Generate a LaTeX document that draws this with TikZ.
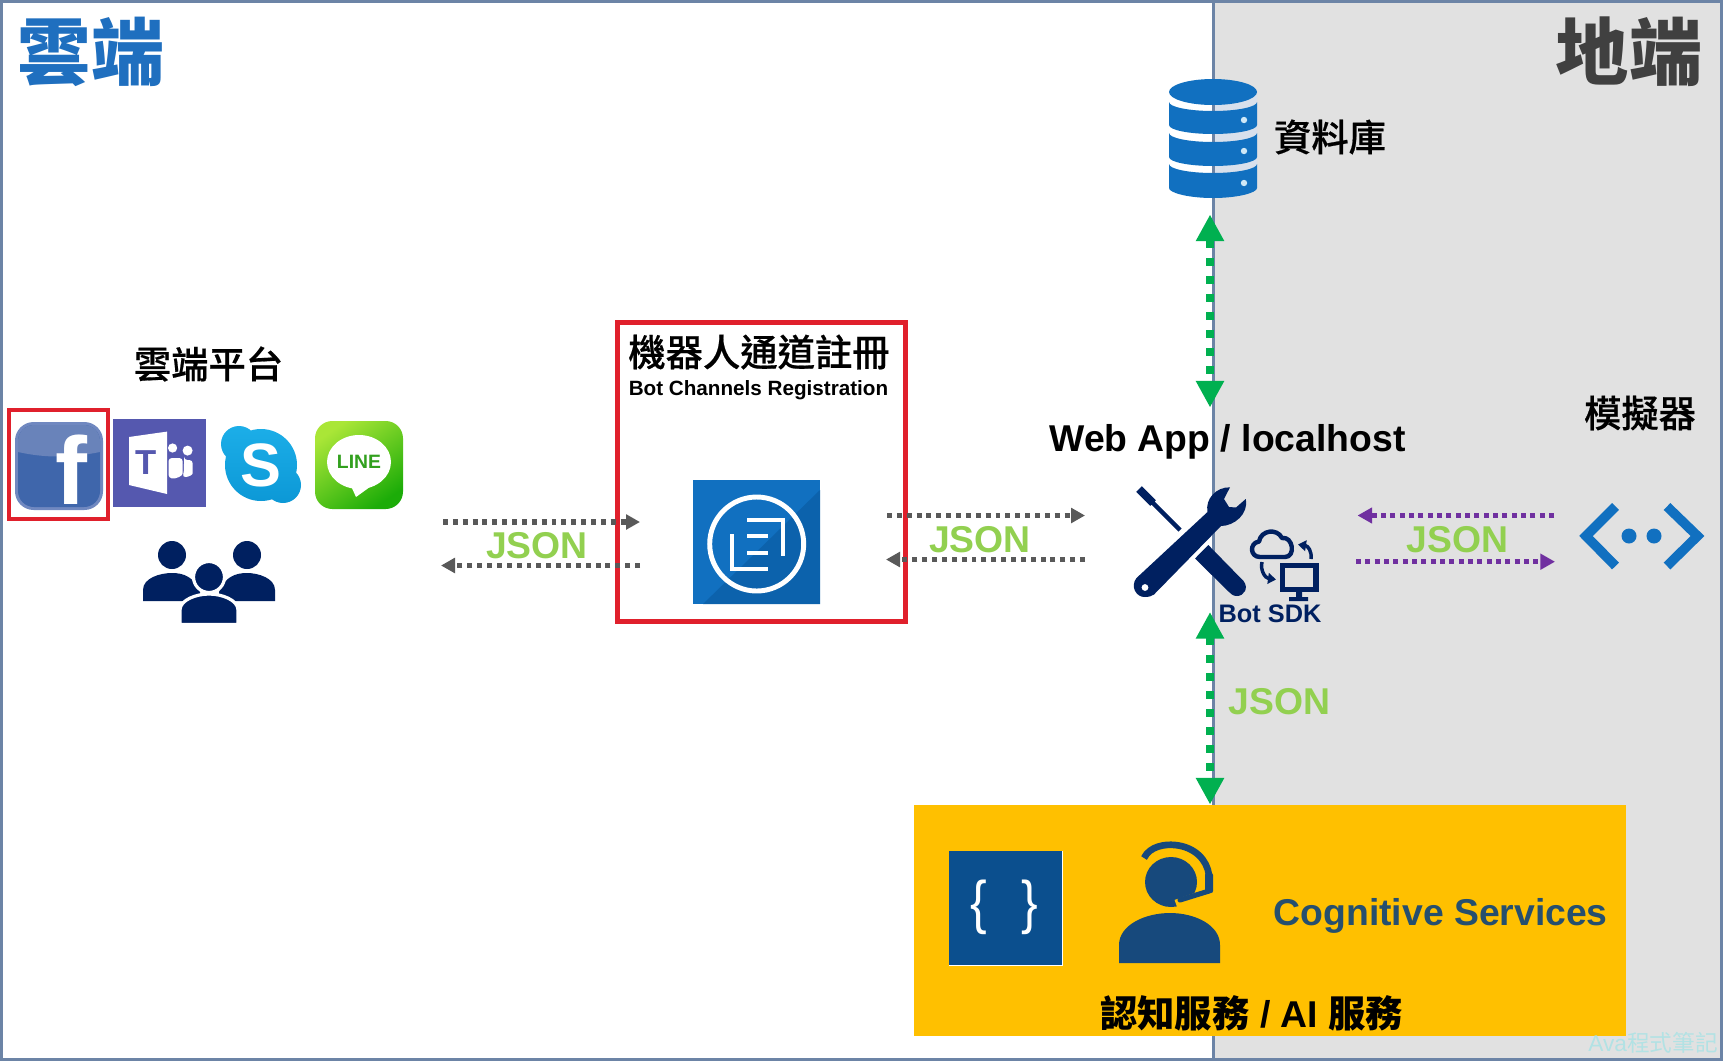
\documentclass[tikz,border=0pt]{standalone}
\usepackage{fontspec}
\setmainfont{Liberation Sans}
\newfontfamily\cjk{Noto Sans CJK TC}
\newfontfamily\cjkm[FakeBold=0.5]{Noto Sans CJK TC Medium}
\usetikzlibrary{arrows.meta}
\definecolor{frameblue}{HTML}{6C84A6}
\definecolor{panelgray}{HTML}{E1E1E1}
\definecolor{cloudblue}{HTML}{1F6FBF}
\definecolor{darktitle}{HTML}{404040}
\definecolor{azure}{HTML}{1170C0}
\definecolor{azuredark}{HTML}{0C62AC}
\definecolor{bandblue}{HTML}{D8E0EC}
\definecolor{dotblue}{HTML}{CFE8F7}
\definecolor{navy}{HTML}{002060}
\definecolor{boxred}{HTML}{E0202C}
\definecolor{arrowgray}{HTML}{595959}
\definecolor{arrowgreen}{HTML}{00B050}
\definecolor{arrowpurple}{HTML}{7030A0}
\definecolor{jsongreen}{HTML}{92D050}
\definecolor{orangebox}{HTML}{FFC000}
\definecolor{bracesblue}{HTML}{0B4F8E}
\definecolor{personblue}{HTML}{17497C}
\definecolor{coglabel}{HTML}{264F6E}
\definecolor{teamspurple}{HTML}{5558AF}
\definecolor{wmark}{HTML}{B2E2E4}
\tikzset{
  lbl/.style={inner sep=0pt,outer sep=0pt,anchor=center},
  json/.style={lbl,text=jsongreen,font=\fontsize{28}{30}\selectfont\bfseries},
  cjktitle/.style={lbl,font=\fontsize{28}{30}\selectfont\cjkm},
  grayflow/.style={draw=arrowgray,line width=4pt,dash pattern=on 3.7pt off 3.7pt,
    -{Triangle[length=10.5pt,width=11pt,fill=arrowgray]}},
  purpleflow/.style={draw=arrowpurple,line width=3.8pt,dash pattern=on 3.7pt off 3.3pt,
    -{Triangle[length=11pt,width=11.5pt,fill=arrowpurple]}},
  greenflow/.style={draw=arrowgreen,line width=6pt,dash pattern=on 6pt off 7.5pt,
    {Triangle[length=20pt,width=20pt,fill=arrowgreen]}-{Triangle[length=20pt,width=20pt,fill=arrowgreen]}},
  redbox/.style={draw=boxred,line width=3.8pt}
}
\newcommand\dbseg[4]{%
  \fill[azure] (1169,#1) -- (1169,#3) .. controls (1169,#3+5) and (1189,#4) .. (1213,#4)
    .. controls (1237,#4) and (1257,#3+5) .. (1257,#3) -- (1257,#1)
    .. controls (1257,#1+5) and (1237,#2) .. (1213,#2) .. controls (1189,#2) and (1169,#1+5) .. (1169,#1) -- cycle;}
\begin{document}
\begin{tikzpicture}[x=0.75pt,y=-0.75pt]
\useasboundingbox (0,0) rectangle (1723,1061);
\fill[white] (0,0) rectangle (1723,1061);
% panel
\fill[panelgray] (1214,0) rectangle (1723,1061);
% database backing (light bands on the right half)
\fill[bandblue] (1214,92) -- (1257,92) -- (1257,165) .. controls (1257,170) and (1237,173) .. (1214,173) -- cycle;
\draw[frameblue,line width=2.2pt] (1213.7,0) -- (1213.7,1061);
\draw[frameblue,line width=2.3pt] (1.5,1.5) rectangle (1721.5,1059.5);
% titles
\node[lbl,text=cloudblue,font=\fontsize{55}{60}\selectfont\cjk\bfseries] (tcloud) at (91,52) {雲端};
\node[lbl,text=darktitle,font=\fontsize{55}{60}\selectfont\cjk\bfseries] (tlocal) at (1629,52) {地端};
% database
\fill[azure] (1213,92) ellipse (44 and 13);
\dbseg{102}{111}{125}{134}
\dbseg{133}{142}{157}{166}
\dbseg{164}{173}{188}{198}
\foreach \yy in {120,151,183} \fill[dotblue] (1244,\yy) circle (3.2);
\node[cjktitle] (dbl) at (1330,137) {資料庫};
\coordinate (dbport) at (1210,214.5);
% cloud platforms
\node[cjktitle] (plat) at (208.5,364) {雲端平台};
\draw[boxred,line width=3.2pt] (9,410) rectangle (108,519);
% facebook
\fill[rounded corners=14,fill={rgb,255:red,112;green,136;blue,192}] (15,422) rectangle (103,510);
\fill[rounded corners=12,fill={rgb,255:red,63;green,102;blue,171}] (18,425) rectangle (100,507);
\begin{scope}
\clip[rounded corners=12] (18,425) rectangle (100,507);
\fill[fill={rgb,255:red,105;green,131;blue,186}] (18,425) rectangle (100,452) .. controls (70,458) and (45,458) .. (18,452) -- cycle;
\end{scope}
\node[lbl,text=white,font=\fontsize{72}{72}\selectfont\bfseries] (fb) at (71,470) {f};
% teams
\fill[teamspurple] (113,419) rectangle (206,507);
\fill[white,rounded corners=2.5] (168.5,458) -- (182.7,458) -- (182.7,470) .. controls (182.7,476) and (176,479) .. (168.5,478) -- cycle;
\fill[white,rounded corners=2.5] (184,460) -- (192.7,460) -- (192.7,470) .. controls (192.7,475) and (188,477) .. (182,477) .. controls (184,472) and (184,468) .. (184,460) -- cycle;
\fill[white] (172.6,448) circle (4.6);
\fill[white] (187.6,450.6) circle (5);
\fill[white] (129,437) -- (167,431.6) -- (167,494) -- (129,485) -- cycle;
\node[lbl,text=teamspurple,font=\fontsize{26}{26}\selectfont\bfseries] (teamsT) at (146,463) {T};
% skype
\shade[top color={rgb,255:red,28;green,174;blue,232},bottom color={rgb,255:red,12;green,152;blue,214}]
  (261,465) circle (36) (239,444) circle (18) (283,485) circle (18);
\node[lbl,text=white,font=\fontsize{46}{46}\selectfont\bfseries] (skypeS) at (261,465) {S};
% line
\shade[rounded corners=13,top color={rgb,255:red,170;green,230;blue,55},bottom color={rgb,255:red,28;green,172;blue,8},shading angle=35] (315,421) rectangle (403,509);
\fill[white] (359,462) ellipse (32 and 27);
\fill[white] (351,486) -- (356,497) -- (374,484) -- cycle;
\node[lbl,text={rgb,255:red,50;green,160;blue,30},font=\fontsize{14.5}{15}\selectfont\bfseries] (lineT) at (359,462) {LINE};
% people
\fill[navy] (172,555) circle (14) (247,555) circle (14);
\fill[navy] (143,601) -- (143,590) .. controls (143,578) and (160,573) .. (172,573) .. controls (184,573) and (194,577) .. (200,592) -- (200,601) -- cycle;
\fill[navy] (275,601) -- (275,590) .. controls (275,578) and (258,573) .. (247,573) .. controls (235,573) and (225,577) .. (219,592) -- (219,601) -- cycle;
\fill[navy,draw=white,line width=2.4pt] (209,577) circle (15.5);
\fill[navy,draw=white,line width=2.4pt] (180,624.5) -- (180,610) .. controls (180,600) and (196,594) .. (209,594) .. controls (222,594) and (238,600) .. (238,610) -- (238,624.5) -- cycle;
\fill[white] (170,623) rectangle (250,630);
% registration
\draw[redbox] (617.5,322.5) rectangle (905.5,621.5);
\node[lbl,font=\fontsize{28}{30}\selectfont\cjkm] (regcn) at (759,352) {機器人通道註冊};
\node[lbl,font=\fontsize{15.5}{17}\selectfont\bfseries] (regen) at (758.5,390) {Bot Channels Registration};
\fill[azure] (693,480) rectangle (820,604);
\fill[azuredark] (820,490) -- (820,604) -- (703,604) -- cycle;
\draw[white,line width=3.7pt] (756.7,544) circle (47);
\draw[white,line width=3.7pt] (732,534) -- (732,569) -- (768,569);
\draw[white,line width=3.7pt] (747,520) -- (783,520) -- (783,556);
\draw[white,line width=3.7pt] (747,536) -- (768,536) (747,553) -- (768,553);
% web app
\node[lbl,font=\fontsize{28}{30}\selectfont\bfseries] (web) at (1227.5,441.5) {Web App / localhost};
% tools
\fill[navy] (1136.2,491.8) -- (1141.8,486.2) -- (1155.8,500.2) -- (1154.6,501.4) -- (1181.6,528.4) -- (1178.4,531.6) -- (1151.4,504.6) -- (1150.2,505.8) -- cycle;
\fill[navy] (1195,558.5) -- (1208.3,545) -- (1243.5,581) .. controls (1249,588) and (1244,596) .. (1237,596) .. controls (1233,596) and (1231,594) .. (1229,592) -- cycle;
\fill[navy] (1230,487.3) .. controls (1216,487) and (1205,499) .. (1207.5,512)
  -- (1136.5,578) .. controls (1130,586) and (1136,597.5) .. (1145,597) .. controls (1149,597) and (1152,596) .. (1154,594.5)
  -- (1221,526) .. controls (1234,526) and (1249,514) .. (1245.7,499)
  -- (1236,507.5) -- (1229,507) -- (1224,499) -- cycle;
\fill[white] (1145,587.5) circle (3.4);
% bot sdk
\draw[navy,line width=3.3pt,line join=round] (1260,557) .. controls (1250,557) and (1249,543) .. (1259,541.5)
  .. controls (1261,530) and (1277,528) .. (1282,538) .. controls (1293,536) and (1296,557) .. (1285,557) -- cycle;
\draw[navy,line width=2.6pt,-{Triangle[length=6pt,width=8pt]}] (1311,559) .. controls (1312,551) and (1308,546) .. (1298,544.5);
\draw[navy,line width=2.6pt,-{Triangle[length=6pt,width=8pt]}] (1262,562) .. controls (1260,570) and (1265,578) .. (1276,579.5);
\draw[navy,line width=3.8pt] (1282.5,565.5) rectangle (1316,589.5);
\fill[navy] (1296,591) rectangle (1302,597) (1289,597) rectangle (1308,601);
\node[lbl,text=navy,font=\fontsize{19}{20}\selectfont\bfseries] (sdk) at (1270,614) {Bot SDK};
% emulator
\node[cjktitle] (emul) at (1640,413) {模擬器};
\draw[azure,line width=7.2pt,miter limit=10] (1615.5,506.5) -- (1586,536) -- (1615.5,566);
\draw[azure,line width=7.2pt,miter limit=10] (1667,506.5) -- (1697.5,536) -- (1667,566);
\fill[azure] (1629,536) circle (7.5) (1654,536) circle (7.5);
% orange box
\coordinate (orangeport) at (1210,804.5);
\fill[orangebox] (914,804.5) rectangle (1626,1036);
\fill[white] (949,850.5) rectangle (1063,965.5);
\fill[bracesblue] (949,850.5) rectangle (1062,964.5);
\node[lbl,text=white,xscale=.85,font=\fontsize{44}{46}\selectfont] (brL) at (979,907.5) {\{};
\node[lbl,text=white,xscale=.85,font=\fontsize{44}{46}\selectfont] (brR) at (1030,907.5) {\}};
% agent
\fill[personblue] (1119,963) -- (1119,945) .. controls (1119,925) and (1145,913) .. (1170,913) .. controls (1195,913) and (1220,925) .. (1220,945) -- (1220,963) -- cycle;
\fill[personblue] (1171,882) ellipse (26 and 25);
\draw[personblue,line width=5pt] (1144,858) .. controls (1150,846) and (1165,844) .. (1175,845) .. controls (1195,847) and (1207,860) .. (1209,875);
\draw[orangebox,line width=6.5pt] (1211,892) -- (1176,904);
\fill[personblue,rounded corners=1.5] (1205,873) rectangle (1213,893);
\draw[personblue,line width=3.8pt,line cap=round] (1209,891) -- (1180,900);
\node[lbl,text=coglabel,font=\fontsize{28}{30}\selectfont\bfseries] (cog) at (1440.7,916) {Cognitive Services};
\node[lbl,font=\fontsize{28}{30}\selectfont\bfseries] (ai) at (1251.7,1013) {{\cjk\bfseries 認知服務} / AI {\cjk\bfseries 服務}};
\node[lbl,text=wmark,font=\fontsize{17}{18}\selectfont] (wm) at (1653,1043) {Ava{\cjk 程式筆記}};
% connectors
\coordinate (a1s) at (443,522); \coordinate (a1e) at (640,522);
\coordinate (a2s) at (640,565.5); \coordinate (a2e) at (441,565.5);
\coordinate (a3s) at (887,515.5); \coordinate (a3e) at (1085,515.5);
\coordinate (a4s) at (1085,559.5); \coordinate (a4e) at (886,559.5);
\coordinate (p1s) at (1554,515.5); \coordinate (p1e) at (1357.5,515.5);
\coordinate (p2s) at (1356,561.7); \coordinate (p2e) at (1555,561.7);
\coordinate (webtop) at (1210,407.5);
\coordinate (webbot) at (1210,612);
\draw[grayflow] (a1s) -- (a1e);
\draw[grayflow] (a2s) -- (a2e);
\draw[grayflow] (a3s) -- (a3e);
\draw[grayflow] (a4s) -- (a4e);
\draw[purpleflow] (p1s) -- (p1e);
\draw[purpleflow] (p2s) -- (p2e);
\draw[greenflow] (dbport) -- (webtop);
\draw[greenflow] (webbot) -- (orangeport);
\node[json] (j1) at (537,546) {JSON};
\node[json] (j2) at (980,539.5) {JSON};
\node[json] (j3) at (1457.6,539.5) {JSON};
\node[json] (j4) at (1279.5,702) {JSON};
\end{tikzpicture}
\end{document}
